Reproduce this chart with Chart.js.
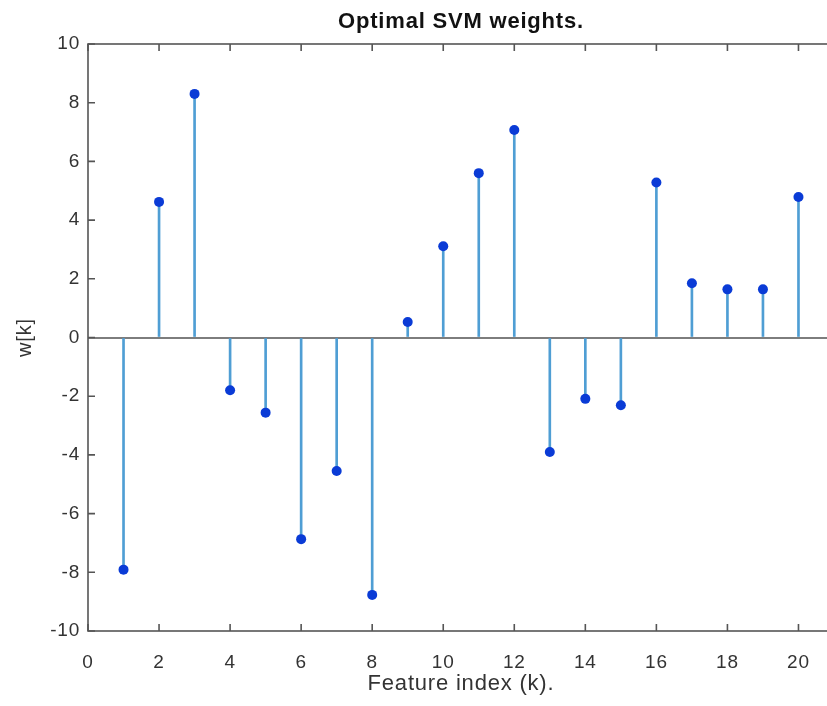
<!DOCTYPE html>
<html>
<head>
<meta charset="utf-8">
<script src="https://cdn.jsdelivr.net/npm/chart.js@4.4.1/dist/chart.umd.min.js"></script>
<style>
  html, body { margin: 0; padding: 0; background: #ffffff; overflow: hidden; width: 827px; height: 706px; }
  #wrap { position: absolute; left: 0; top: 0; width: 845px; height: 706px; }
</style>
</head>
<body>
<div id="wrap"><canvas id="c" width="845" height="706"></canvas></div>
<script>
// ---- data ----
const featureIndex = [1, 2, 3, 4, 5, 6, 7, 8, 9, 10, 11, 12, 13, 14, 15, 16, 17, 18, 19, 20];
const weights = [-7.91, 4.62, 8.30, -1.80, -2.56, -6.87, -4.55, -8.77, 0.53, 3.11,
                 5.60, 7.07, -3.90, -2.09, -2.31, 5.28, 1.85, 1.64, 1.64, 4.79];
const xTickValues = [0, 2, 4, 6, 8, 10, 12, 14, 16, 18, 20];
const yTickValues = [-10, -8, -6, -4, -2, 0, 2, 4, 6, 8, 10];
const chartTitle = 'Optimal SVM weights.';
const xAxisTitle = 'Feature index (k).';
const yAxisTitle = 'w[k]';

const points = featureIndex.map((k, i) => ({ x: k, y: weights[i] }));

const FONT = '"Liberation Sans", Arial, sans-serif';
const AXIS_COLOR = '#555555';
const TEXT_COLOR = '#333333';

const boxPlugin = {
  id: 'boxPlugin',
  beforeDraw(chart) {
    chart.ctx.letterSpacing = '0.8px';
  },
  afterDraw(chart) {
    const { ctx, chartArea: a, scales } = chart;
    const xs = scales.x, ys = scales.y;
    const tl = 7;
    ctx.save();
    ctx.letterSpacing = '0px';
    ctx.strokeStyle = AXIS_COLOR;
    ctx.lineWidth = 1.6;
    ctx.strokeRect(a.left, a.top, a.right - a.left, a.bottom - a.top);
    ctx.beginPath();
    xTickValues.forEach(v => {
      const px = xs.getPixelForValue(v);
      ctx.moveTo(px, a.bottom); ctx.lineTo(px, a.bottom - tl);
      ctx.moveTo(px, a.top); ctx.lineTo(px, a.top + tl);
    });
    yTickValues.forEach(v => {
      const py = ys.getPixelForValue(v);
      ctx.moveTo(a.left, py); ctx.lineTo(a.left + tl, py);
      ctx.moveTo(a.right, py); ctx.lineTo(a.right - tl, py);
    });
    ctx.stroke();
    ctx.restore();
  }
};

new Chart(document.getElementById('c'), {
  type: 'bar',
  data: {
    datasets: [
      {
        type: 'bar',
        data: points,
        backgroundColor: '#4f9ed4',
        borderWidth: 0,
        barThickness: 2,
        order: 2
      },
      {
        type: 'scatter',
        data: points,
        pointRadius: 5,
        pointBackgroundColor: '#0a3bd6',
        pointBorderColor: '#0a3bd6',
        pointBorderWidth: 0,
        showLine: false,
        order: 1
      }
    ]
  },
  options: {
    responsive: false,
    animation: false,
    devicePixelRatio: 1,
    layout: { padding: { left: 0, right: 11, top: 0, bottom: 0 } },
    plugins: {
      legend: { display: false },
      tooltip: { enabled: false },
      title: { display: false }
    },
    scales: {
      x: {
        type: 'linear',
        position: 'bottom',
        min: 0,
        max: 21,
        offset: false,
        afterBuildTicks: s => { s.ticks = xTickValues.map(v => ({ value: v })); },
        afterFit: s => { s.height = 75; },
        ticks: {
          color: TEXT_COLOR,
          font: { family: FONT, size: 19 },
          padding: 20,
          maxRotation: 0,
          autoSkip: false
        },
        grid: { display: false, drawTicks: false },
        border: { display: false },
        title: {
          display: true,
          text: xAxisTitle,
          color: TEXT_COLOR,
          font: { family: FONT, size: 22 },
          padding: { top: 0, bottom: 9 }
        }
      },
      xTop: {
        type: 'linear',
        position: 'top',
        min: 0,
        max: 21,
        afterFit: s => { s.height = 44; },
        ticks: { display: false },
        grid: { display: false, drawTicks: false },
        border: { display: false },
        title: {
          display: true,
          text: chartTitle,
          color: '#111111',
          font: { family: FONT, size: 22, weight: 'bold' },
          padding: { top: 9, bottom: 0 }
        }
      },
      y: {
        type: 'linear',
        position: 'left',
        min: -10,
        max: 10,
        afterBuildTicks: s => { s.ticks = yTickValues.map(v => ({ value: v })); },
        afterFit: s => { s.width = 88; },
        ticks: {
          color: TEXT_COLOR,
          font: { family: FONT, size: 19 },
          padding: 8
        },
        grid: {
          drawTicks: false,
          lineWidth: 2,
          color: c => (c.tick && c.tick.value === 0) ? '#7d7d7d' : 'rgba(0,0,0,0)'
        },
        border: { display: false },
        title: {
          display: true,
          text: yAxisTitle,
          color: TEXT_COLOR,
          font: { family: FONT, size: 20 },
          padding: { top: 13, bottom: 0 }
        }
      }
    }
  },
  plugins: [boxPlugin]
});
</script>
</body>
</html>
